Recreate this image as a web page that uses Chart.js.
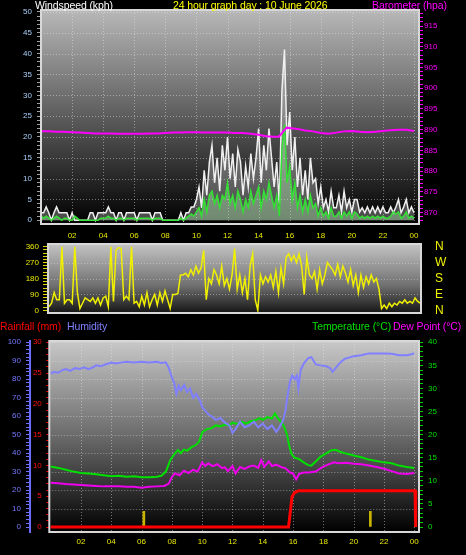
<!DOCTYPE html>
<html><head><meta charset="utf-8">
<script src="https://cdn.jsdelivr.net/npm/chart.js@4"></script>
<style>
html,body{margin:0;padding:0;background:#000;}
body{width:466px;height:555px;overflow:hidden;position:relative;font-family:"Liberation Sans",Arial,sans-serif;}
canvas{position:absolute;left:0;}
.t{position:absolute;white-space:nowrap;font-size:10.5px;line-height:13px;z-index:5;letter-spacing:-0.1px;}
</style></head>
<body>
<div class="t" style="left:35px;top:-1px;color:#ffffff">Windspeed (kph)</div>
<div class="t" style="left:173px;top:-1px;color:#ffff00">24 hour graph day : 10 June 2026</div>
<div class="t" style="left:372px;top:-1px;color:#ff00ff">Barometer (hpa)</div>
<div class="t" style="left:0px;top:320px;color:#ff0000">Rainfall (mm)</div>
<div class="t" style="left:67px;top:320px;color:#8080ff">Humidity</div>
<div class="t" style="left:312px;top:320px;color:#00e000">Temperature (°C)</div>
<div class="t" style="left:393px;top:320px;color:#ff00ff">Dew Point (°C)</div>
<canvas id="c1" width="466" height="244" style="top:0px"></canvas>
<canvas id="c2" width="466" height="84" style="top:236px"></canvas>
<canvas id="c3" width="466" height="235" style="top:320px"></canvas>
<script>
// ================= DATA =================
const hourTicks = [2,4,6,8,10,12,14,16,18,20,22,24];
const hourTickLabels = ['02','04','06','08','10','12','14','16','18','20','22','00'];

// wind samples every 10 minutes, 00:00 .. 24:00 (kph)
const windStepMinutes = 10;
const windGust = [
  1.8,1.8,3.2,1.8,0,1.8,
  3.2,1.8,1.8,1.8,1.8,0,
  1.8,0,0,0,0,0,
  0,1.8,1.8,0,1.8,1.8,
  1.8,1.8,3.2,1.8,1.8,0,
  1.8,1.8,0,1.8,1.8,1.8,
  1.8,0,1.8,1.8,1.8,1.8,
  1.8,0,1.8,1.8,1.8,0,
  0,0,0,0,0,0,
  1.8,0,1.8,1.8,3.2,3.2,
  5,8,3,12,6,14,
  18,9,15,7,18,12,
  20,10,16,8,17,14,
  6,13,8,16,10,15,
  22,9,18,12,22,15,
  8,14,4,31,41,18,
  26,12,20,8,15,6,
  12,5,15,9,10,4,
  8,3,5,2,7,3,
  3,6,2,7,3,5,
  2,5,5,2,3,1.8,
  3.2,1.8,3.2,1.8,3.2,1.8,
  3.2,1.8,1.8,3.2,1.8,3.2,
  5,1.8,3.2,5,1.8,3.2,
  1.8
];
const windAvg = [
  1,0.5,1,0.5,0,0.5,
  1,0.5,0,0.5,0.5,0,
  0,1,0.5,0,0,0,
  0,0,0,0,0,0.5,
  0.5,0.5,1,0.5,0.5,0,
  0.5,0.5,0,0.5,0.5,0.5,
  0.5,0,0.5,0.5,0.5,0.5,
  0.5,0,0.5,0.5,0.5,0,
  0,0,0,0,0,0,
  0.5,0,0.5,1,1.5,1,
  2,3,1,5,2,6,
  7,4,6,3,6,5,
  9,4,6,3,7,5,
  2,5,3,7,4,6,
  8,3,7,5,9,6,
  3,6,1,17,23,9,
  13,5,9,3,6,2,
  5,2,6,3,4,1,
  3,1,2,0.5,3,1,
  1,2,0.5,2,1,2,
  0.5,2,1.5,0.5,1,0.5,
  1,0.5,1,0.5,1,0.5,
  1,0.5,0.5,1,2,1.5,
  2,0.5,1,2,0.5,1,
  0.5
];

// barometer (hPa)
const baroHours  = [0,0.5,1,1.5,2,2.5,3,3.5,4,4.5,5,5.5,6,6.5,7,7.5,8,8.5,9,9.5,10,10.5,11,11.5,12,12.5,13,13.5,14,14.5,15,15.3,15.55,15.8,16,16.5,17,17.5,18,18.5,19,19.5,20,20.5,21,21.5,22,22.5,23,23.5,24];
const baroValues = [889.6,889.6,889.5,889.5,889.4,889.3,889.2,889.1,889.1,889.1,889.0,889.0,889.0,889.0,889.1,889.1,889.2,889.3,889.3,889.4,889.4,889.3,889.3,889.3,889.3,889.2,889.2,889.0,888.8,888.4,888.3,888.3,889.4,890.5,890.4,890.2,889.8,889.6,889.2,889.0,889.3,889.6,889.7,889.5,889.4,889.5,889.7,889.9,890.0,890.0,889.7];

// wind direction every 10 minutes (degrees)
const dirStepMinutes = 10;
const windDir = [
  20,40,100,60,60,360,
  40,60,60,40,360,100,
  10,40,70,60,50,70,
  40,70,30,70,80,20,
  360,50,340,355,350,60,
  80,60,360,40,50,20,
  80,30,100,20,60,90,
  30,100,50,110,60,10,
  90,90,95,200,200,210,
  190,230,200,250,210,240,
  340,60,180,150,230,200,
  150,250,140,180,120,200,
  350,120,200,100,180,60,
  250,320,60,0,200,150,
  190,160,200,130,220,100,
  240,150,300,320,280,310,
  270,320,250,90,300,200,
  180,220,120,230,150,200,
  270,250,230,200,260,190,
  250,210,160,230,140,200,
  100,200,130,190,150,200,
  160,180,120,10,30,10,
  40,20,40,30,50,40,
  60,40,50,40,70,50,
  40
];
const dirLetters = {0:'N',90:'E',180:'S',270:'W',360:'N'};

// humidity (%)
const humHours  = [0,0.2,0.5,0.8,1.0,1.3,1.6,1.9,2.2,2.5,2.8,3.0,3.3,3.6,4.0,4.3,4.6,5.0,5.5,6.0,6.5,7.0,7.3,7.6,7.8,8.0,8.15,8.3,8.45,8.6,8.8,9.0,9.2,9.4,9.6,9.85,10.0,10.2,10.4,10.6,10.9,11.2,11.5,11.8,12.0,12.2,12.5,12.8,13.1,13.4,13.7,14.0,14.3,14.6,14.9,15.1,15.35,15.5,15.65,15.8,15.95,16.1,16.25,16.35,16.5,16.7,17.0,17.2,17.5,17.8,18.2,18.45,18.6,18.9,19.1,19.4,20.0,20.5,21.0,21.5,22.0,22.5,23.0,23.5,23.8,24.0];
const humValues = [83,84,83.5,85,85.5,84.5,86,85.5,86.5,85.5,86.5,87.5,87,88,89,88.5,89,89.5,89,89.5,89,89.5,88.8,89.2,86,81,78,72,76.5,74,77,73,75,70,72,68.5,65,63,61,60,58,59,56.5,55,51,53,57,54,55,57,54,56,53,55,51.5,54,58,63,72,79,82,80,82,75,85,88.5,91.5,92,88,87.5,87,86,84,87,89,91,92.5,93,94,94,94,93.8,93,93,93.5,94];

// temperature (°C)
const tempHours  = [0,0.5,1.0,1.5,2.0,2.5,3.0,3.5,4.0,4.5,5.0,5.5,6.0,6.5,7.0,7.3,7.6,7.9,8.1,8.4,8.6,8.8,9.0,9.3,9.6,9.8,10.0,10.3,10.6,10.9,11.2,11.5,11.8,12.0,12.3,12.6,12.9,13.2,13.5,13.8,14.0,14.3,14.6,14.8,15.0,15.2,15.4,15.6,15.75,15.9,16.1,16.4,16.7,17.0,17.2,17.5,17.8,18.1,18.5,18.8,19.1,19.5,20.0,20.5,21.0,21.5,22.0,22.5,23.0,23.5,24.0];
const tempValues = [13.1,12.8,12.4,12.0,11.7,11.6,11.4,11.2,11.0,11.1,10.9,11.0,10.8,10.8,10.9,11.1,12.0,14.5,15.5,16.7,16.0,16.8,16.5,17.3,17.8,18.5,20.5,21.2,21.4,22.0,21.8,22.2,22.0,22.6,22.3,22.8,22.4,22.9,23.1,23.6,23.2,23.8,23.5,24.6,23.5,22.8,21.8,20.0,17.5,15.8,15.0,14.7,14.0,13.4,13.3,14.2,15.2,15.8,16.6,16.7,16.3,15.9,15.5,15.1,14.6,14.3,14.0,13.8,13.3,13.0,12.8];

// dew point (°C)
const dewHours  = [0,0.5,1.0,1.5,2.0,2.5,3.0,3.5,4.0,4.5,5.0,5.5,6.0,6.5,7.0,7.5,7.8,8.0,8.2,8.5,8.8,9.1,9.4,9.7,10.0,10.2,10.4,10.7,11.0,11.3,11.5,11.7,12.0,12.2,12.5,12.8,13.1,13.4,13.7,13.9,14.1,14.4,14.6,14.9,15.2,15.5,15.8,16.0,16.2,16.4,16.7,17.0,17.5,17.9,18.3,18.7,19.0,19.5,20.0,20.5,21.0,21.5,22.0,22.5,23.0,23.5,24.0];
const dewValues = [9.6,9.5,9.3,9.2,9.1,9.0,8.9,8.8,8.8,8.8,8.7,8.7,8.5,8.7,8.8,8.9,9.4,10.8,11.6,11.2,12.2,11.7,12.4,12.0,14.0,13.2,13.8,13.2,13.6,12.8,12.9,12.1,13.2,11.6,13.0,12.6,13.1,13.3,12.8,14.5,13.0,14.2,13.2,13.5,13.0,12.7,11.8,11.6,10.3,11.5,11.8,11.8,12.0,12.9,13.5,14.0,13.8,13.9,13.7,13.6,13.3,13.0,12.6,12.1,11.6,11.5,11.7];

// rainfall (mm)
const rainHours  = [0,15.7,15.93,16.1,16.37,24.05,24.09];
const rainValues = [0,0,4.9,5.6,5.9,5.9,0];

// small yellow event markers on the humidity scale
const markerHours  = [6.15,21.1];
const markerValues = [8.5,8.5];

// ================= HELPERS =================
const FONT = "'Liberation Sans', Arial, sans-serif";
function steps(a, b, s){ const r=[]; for(let v=a; v<=b+1e-9; v+=s) r.push(+v.toFixed(4)); return r; }
function pts(xs, ys){ return ys.map((y,i)=>({x:xs[i], y})); }
function sampled(vals, stepMin){ return vals.map((y,i)=>({x:i*stepMin/60, y})); }

function xAxis(min, max, height, pad, show){
  return {
    type:'linear', min, max, display: show, offset:false,
    afterBuildTicks: s => { s.ticks = hourTicks.map(v=>({value:v})); },
    afterFit: s => { s.height = height; s.paddingLeft=0; s.paddingRight=0; },
    ticks:{ autoSkip:false, maxRotation:0, padding:pad, color:'#e6e600', font:{family:FONT,size:8},
      callback: v => hourTickLabels[hourTicks.indexOf(v)] ?? '' },
    grid:{ drawOnChartArea:false, drawTicks:false, offset:false },
    border:{ display:false }
  };
}
function yAxis(o){
  return {
    type:'linear', position:o.pos, min:o.min, max:o.max, weight:o.weight||0,
    afterBuildTicks: s => { s.ticks = steps(o.from, o.to, o.minor).map(v=>({value:v})); },
    afterFit: s => { s.width = o.width; s.paddingTop=0; s.paddingBottom=0; },
    ticks:{ autoSkip:false, padding:o.padding, color:o.color, font:{family:FONT,size:o.size||8},
      callback: o.labels || (v => (Math.abs(v % o.major) < 1e-6 ? String(v) : '')) },
    grid:{ drawOnChartArea:false, drawTicks: o.tickLength>0, tickLength:o.tickLength||0, tickColor:o.tickColor, tickWidth:1 },
    border: o.border || { display:false }
  };
}

const panelPlugin = {
  id:'panel',
  beforeDraw(chart, args, o){
    const {ctx, chartArea:a} = chart;
    ctx.save();
    const g = ctx.createLinearGradient(0, a.top, 0, a.bottom);
    o.stops.forEach(([p,c]) => g.addColorStop(p,c));
    ctx.fillStyle = g;
    ctx.fillRect(a.left, a.top, a.right-a.left, a.bottom-a.top);
    ctx.setLineDash([1,2]);
    ctx.lineWidth = 1;
    ctx.strokeStyle = o.grid;
    const xs = chart.scales.x;
    (o.xLines||[]).forEach(v => {
      const p = Math.round(xs.getPixelForValue(v)) + 0.5;
      ctx.beginPath(); ctx.moveTo(p, a.top); ctx.lineTo(p, a.bottom); ctx.stroke();
    });
    const ys = chart.scales[o.yScale];
    (o.yLines||[]).forEach(v => {
      const p = Math.round(ys.getPixelForValue(v)) + 0.5;
      ctx.beginPath(); ctx.moveTo(a.left, p); ctx.lineTo(a.right, p); ctx.stroke();
    });
    ctx.restore();
  },
  afterDraw(chart, args, o){
    const {ctx, chartArea:a} = chart;
    ctx.save();
    ctx.strokeStyle = o.frame; ctx.lineWidth = 2;
    ctx.strokeRect(a.left, a.top, a.right-a.left, a.bottom-a.top);
    ctx.restore();
  }
};

const common = {
  responsive:false, animation:false, events:[],
  plugins:{ legend:{display:false}, tooltip:{enabled:false} },
  elements:{ point:{radius:0}, line:{tension:0} }
};

// ================= TOP: wind & barometer =================
new Chart(document.getElementById('c1'), {
  type:'line',
  data:{ datasets:[
    { data: pts(baroHours, baroValues), yAxisID:'yb', borderColor:'#ff00ff', borderWidth:2 },
    { data: sampled(windAvg, windStepMinutes), yAxisID:'y', borderColor:'#33e033', borderWidth:1.5,
      fill:'origin', backgroundColor:'rgba(190,255,190,0.35)' },
    { data: sampled(windGust, windStepMinutes), yAxisID:'y', borderColor:'#f0f0f0', borderWidth:1.5,
      fill:'origin', backgroundColor:'rgba(255,255,255,0.28)' }
  ]},
  options:{ ...common,
    layout:{ padding:{top:10,left:0,right:0,bottom:0}, autoPadding:false },
    scales:{
      x: xAxis(0, 24.32, 20, 7, true),
      y: yAxis({pos:'left', min:-0.89, max:50.48, from:0, to:50, minor:1, major:5, width:41,
        color:'#a8d0f8', tickColor:'#a0a0a0', tickLength:4, padding:5}),
      yb: yAxis({pos:'right', min:867.27, max:918.86, from:868, to:918, minor:1, major:5, width:47,
        color:'#ff00ff', tickColor:'#ff00ff', tickLength:4, padding:1})
    },
    plugins:{ ...common.plugins,
      panel:{ stops:[[0,'#b8b8b8'],[0.5,'#5c5c5c'],[1,'#000000']], grid:'rgba(235,235,235,0.45)',
        xLines:hourTicks, yScale:'y', yLines:steps(5,50,5), frame:'#d8d8d8' } }
  },
  plugins:[panelPlugin]
});

// ================= MIDDLE: wind direction =================
new Chart(document.getElementById('c2'), {
  type:'line',
  data:{ datasets:[
    { data: sampled(windDir, dirStepMinutes), yAxisID:'y', borderColor:'#f0f000', borderWidth:1.5 }
  ]},
  options:{ ...common,
    layout:{ padding:{top:8,left:0,right:0,bottom:7}, autoPadding:false },
    scales:{
      x: xAxis(-0.065, 24.05, 0, 0, false),
      y: yAxis({pos:'left', min:-15.3, max:375.3, from:0, to:360, minor:18, major:90, width:48,
        color:'#e8e800', tickColor:'#d8d800', tickLength:5, padding:4}),
      y2: yAxis({pos:'right', min:-15.3, max:375.3, from:0, to:360, minor:90, major:90, width:45,
        color:'#f0f000', tickLength:0, padding:14, size:12,
        labels: v => dirLetters[v] ?? ''})
    },
    plugins:{ ...common.plugins,
      panel:{ stops:[[0,'#c4c4c4'],[0.6,'#707070'],[1,'#151515']], grid:'rgba(235,235,235,0.4)',
        xLines:[], yScale:'y', yLines:[90,180,270], frame:'#d8d8d8' } }
  },
  plugins:[panelPlugin]
});

// ================= BOTTOM: rain, humidity, temperature, dew point =================
new Chart(document.getElementById('c3'), {
  type:'line',
  data:{ datasets:[
    { data: pts(rainHours, rainValues), yAxisID:'rain', borderColor:'#ff0000', borderWidth:3 },
    { data: pts(humHours, humValues), yAxisID:'hum', borderColor:'#8080ff', borderWidth:2 },
    { data: pts(dewHours, dewValues), yAxisID:'temp', borderColor:'#ee00ee', borderWidth:2 },
    { data: pts(tempHours, tempValues), yAxisID:'temp', borderColor:'#00e000', borderWidth:2 },
    { type:'bar', data: pts(markerHours, markerValues), yAxisID:'hum', backgroundColor:'#c8b400', barThickness:2 }
  ]},
  options:{ ...common,
    layout:{ padding:{top:21,left:0,right:0,bottom:0}, autoPadding:false },
    scales:{
      x: xAxis(-0.09, 24.31, 23, 5, true),
      hum: yAxis({pos:'left', weight:1, min:-2.7, max:100.7, from:0, to:100, minor:2, major:10, width:30,
        color:'#7878ff', tickColor:'#7070ff', tickLength:4, padding:5,
        border:{display:true, color:'#6a6aff', width:2}}),
      rain: yAxis({pos:'left', weight:0, min:-0.81, max:30.21, from:0, to:30, minor:1, major:5, width:19.3,
        color:'#ff1010', tickColor:'#ff0000', tickLength:3, padding:4.5}),
      temp: yAxis({pos:'right', min:-1.08, max:40.28, from:0, to:40, minor:1, major:5, width:47,
        color:'#00e000', tickColor:'#00d000', tickLength:4, padding:5})
    },
    plugins:{ ...common.plugins,
      panel:{ stops:[[0,'#c8c8c8'],[0.5,'#6a6a6a'],[1,'#000000']], grid:'rgba(235,235,235,0.45)',
        xLines:hourTicks, yScale:'hum', yLines:steps(10,100,10), frame:'#d8d8d8' } }
  },
  plugins:[panelPlugin]
});
</script>
</body></html>
